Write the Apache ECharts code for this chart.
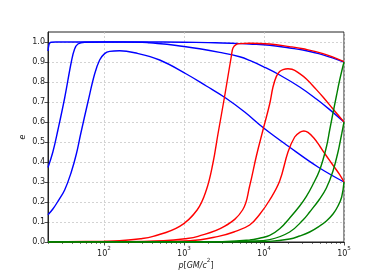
<!DOCTYPE html>
<html><head><meta charset="utf-8">
<script src="https://cdn.jsdelivr.net/npm/echarts@6/dist/echarts.min.js"></script>
<style>html,body{margin:0;padding:0;background:#fff}#c{width:382px;height:273px}</style>
</head><body><div id="c"></div>
<script>
// tick values
const xMajorTicks = [100, 1000, 10000, 100000];
const xMinorTicks = [20,30,40,50,60,70,80,90,200,300,400,500,600,700,800,900,2000,3000,4000,5000,6000,7000,8000,9000,20000,30000,40000,50000,60000,70000,80000,90000];
const yTickValues = [0,0.1,0.2,0.3,0.4,0.5,0.6,0.7,0.8,0.9,1.0];

// blue curves
const blue0P = [20, 20.5, 21, 22, 25, 50, 100, 300, 1000, 2000, 3000, 5000, 6600, 11800, 21000, 30700, 54600, 100000];
const blue0E = [0.955, 0.985, 0.995, 0.999, 1.0, 1.0, 1.0, 1.0, 0.999, 0.997, 0.995, 0.992, 0.99, 0.984, 0.97, 0.96, 0.936, 0.90];

const blueAP = [20, 23, 26.6, 32.3, 39.1, 43, 47.3, 57.4, 100, 300, 373, 765, 1571, 2793, 4970, 6624, 9910, 15710, 27930, 45190, 66240, 100000];
const blueAE = [0.373, 0.45, 0.56, 0.72, 0.90, 0.965, 0.99, 0.999, 1.0, 0.999, 0.996, 0.984, 0.966, 0.948, 0.926, 0.908, 0.876, 0.835, 0.775, 0.715, 0.662, 0.60];

const blueBP = [20, 23, 26.6, 32.3, 39.1, 45.2, 51.2, 63.1, 76.5, 88.4, 102, 118, 157, 242, 497, 1072, 1905, 3320, 5740, 9910, 19950, 47300, 100000];
const blueBE = [0.136, 0.165, 0.203, 0.26, 0.35, 0.44, 0.54, 0.70, 0.84, 0.91, 0.942, 0.953, 0.956, 0.946, 0.91, 0.84, 0.78, 0.72, 0.65, 0.57, 0.48, 0.375, 0.30];

// red curves
const red1P = [20, 100, 157, 286, 412, 884, 1460, 1905, 2305, 2661, 3228, 3913, 4099, 4519, 5000, 6624, 11780, 20950, 30730, 54640, 100000];
const red1E = [0.0003, 0.004, 0.0065, 0.016, 0.028, 0.078, 0.16, 0.26, 0.395, 0.54, 0.73, 0.93, 0.97, 0.988, 0.992, 0.994, 0.99, 0.977, 0.966, 0.942, 0.902];

const red2P = [20, 157, 558, 1030, 1500, 3200, 5400, 6624, 8035, 9716, 11780, 12960, 14290, 15710, 17280, 19950, 22400, 27930, 33880, 45190, 54640, 72860, 100000];
const red2E = [0, 0.001, 0.0065, 0.016, 0.028, 0.078, 0.16, 0.28, 0.43, 0.56, 0.69, 0.775, 0.828, 0.852, 0.862, 0.866, 0.864, 0.842, 0.815, 0.762, 0.725, 0.665, 0.60];

const red3P = [20, 157, 1200, 2700, 4200, 6624, 8900, 11780, 15710, 19950, 24200, 27930, 31500, 35480, 42000, 49700, 58000, 69590, 88310, 100000];
const red3E = [0, 0.0005, 0.0065, 0.028, 0.05, 0.085, 0.14, 0.21, 0.305, 0.45, 0.525, 0.548, 0.555, 0.548, 0.52, 0.48, 0.44, 0.395, 0.337, 0.30];

// green curves
const green1P = [20, 1000, 3000, 6624, 9000, 11780, 15710, 20950, 27930, 33880, 40000, 49700, 60250, 66240, 72860, 80350, 88310, 100000];
const green1E = [0, 0, 0.002, 0.01, 0.02, 0.033, 0.066, 0.12, 0.18, 0.228, 0.28, 0.36, 0.475, 0.56, 0.645, 0.73, 0.81, 0.90];

const green2P = [20, 1000, 3000, 6624, 11780, 20950, 30730, 37240, 49700, 60250, 72860, 84140, 88310, 93540, 100000];
const green2E = [0, 0, 0.001, 0.004, 0.012, 0.05, 0.11, 0.15, 0.215, 0.27, 0.355, 0.45, 0.49, 0.54, 0.60];

const green3P = [20, 1000, 3000, 6624, 11780, 20950, 27930, 37240, 49700, 60250, 72860, 84140, 93540, 100000];
const green3E = [0, 0, 0.0005, 0.001, 0.003, 0.015, 0.03, 0.05, 0.08, 0.105, 0.14, 0.18, 0.225, 0.30];

const zip = (p, e) => p.map((v, i) => [v, e[i]]);
const FONT = 'DejaVu Sans';
const mk = (name, p, e, color) => ({
  name, type: 'line', data: zip(p, e), showSymbol: false, symbol: 'none',
  smooth: 0.4, clip: true,
  lineStyle: { color, width: 1.4 }, itemStyle: { color }, silent: true
});

const chart = echarts.init(document.getElementById('c'), null, { renderer: 'canvas' });
chart.setOption({
  animation: false,
  backgroundColor: '#fff',
  grid: { left: 48, right: 38, top: 32, bottom: 31, containLabel: false, outerBoundsMode: 'none',
          show: true, borderColor: '#222', borderWidth: 1, backgroundColor: 'transparent' },
  xAxis: [{
    type: 'log', logBase: 10, min: 20, max: 100000,
    axisLine: { show: true, lineStyle: { color: '#222', width: 1 } },
    axisTick: { show: true, length: 3.5, customValues: xMajorTicks, lineStyle: { color: '#222', width: 0.8 } },
    axisLabel: { show: true, customValues: xMajorTicks, margin: 4, color: '#222',
      formatter: v => '{b|10}{s|' + Math.round(Math.log10(v)) + '}',
      rich: { b: { fontFamily: FONT, fontSize: 8, lineHeight: 12, verticalAlign: 'bottom', color: '#222' },
              s: { fontFamily: FONT, fontSize: 5.6, lineHeight: 8, verticalAlign: 'top', color: '#222' } } },
    splitLine: { show: true, lineStyle: { color: '#c8c8c8', type: [2, 2], width: 0.8 } },
    name: '{i|p}{r|[}{i|GM/c}{s|2}{r|]}', nameLocation: 'middle', nameGap: 16, nameMoveOverlap: false,
    nameTextStyle: { rich: {
      i: { fontFamily: FONT, fontSize: 8, fontStyle: 'italic', lineHeight: 12, verticalAlign: 'bottom', color: '#222' },
      r: { fontFamily: FONT, fontSize: 8, lineHeight: 12, verticalAlign: 'bottom', color: '#222' },
      s: { fontFamily: FONT, fontSize: 5.6, lineHeight: 8, verticalAlign: 'top', color: '#222' } } }
  }, {
    type: 'log', logBase: 10, min: 20, max: 100000, position: 'bottom',
    axisLine: { show: false },
    axisTick: { show: true, length: 2, customValues: xMinorTicks, lineStyle: { color: '#222', width: 0.6 } },
    axisLabel: { show: false },
    splitLine: { show: false }
  }],
  yAxis: {
    type: 'value', min: 0, max: 1.05, interval: 0.1,
    axisLine: { show: true, lineStyle: { color: '#222', width: 1 } },
    axisTick: { show: true, length: 3.5, customValues: yTickValues, lineStyle: { color: '#222', width: 0.8 } },
    axisLabel: { customValues: yTickValues, margin: 3, fontFamily: FONT, fontSize: 8, color: '#222', formatter: v => v.toFixed(1) },
    splitLine: { show: true, lineStyle: { color: '#c8c8c8', type: [2, 2], width: 0.8 } },
    name: 'e', nameLocation: 'middle', nameGap: 21, nameMoveOverlap: false,
    nameTextStyle: { fontFamily: FONT, fontSize: 8, fontStyle: 'italic', color: '#222' }
  },
  series: [
    mk('b0', blue0P, blue0E, '#0000ff'),
    mk('bA', blueAP, blueAE, '#0000ff'),
    mk('bB', blueBP, blueBE, '#0000ff'),
    mk('r1', red1P, red1E, '#ff0000'),
    mk('r2', red2P, red2E, '#ff0000'),
    mk('r3', red3P, red3E, '#ff0000'),
    mk('g1', green1P, green1E, '#008000'),
    mk('g2', green2P, green2E, '#008000'),
    mk('g3', green3P, green3E, '#008000')
  ]
});
</script>
</body></html>
